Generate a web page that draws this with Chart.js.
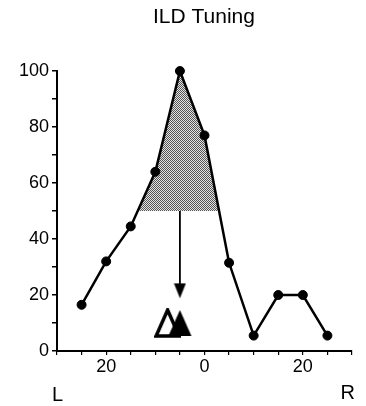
<!DOCTYPE html>
<html>
<head>
<meta charset="utf-8">
<script src="https://cdn.jsdelivr.net/npm/chart.js@4"></script>
<style>
  html, body { margin: 0; padding: 0; background: #fff; }
  #wrap { width: 366px; height: 406px; }
</style>
</head>
<body>
<div id="wrap"><canvas id="ildChart" width="366" height="406"></canvas></div>
<script>
// ILD (dB, negative = left ear louder) and normalised response (%)
const ild = [-25, -20, -15, -10, -5, 0, 5, 10, 15, 20, 25];
const response = [16.5, 32, 44.5, 64, 100, 77, 31.5, 5.5, 20, 20, 5.5];
const halfMax = 50;
// best ILD arrow, from half-max down to the head
const bestIld = -5;
const arrowEnd = 21.5;
// best ILD markers: open and filled triangles
const openTriIld = [-7.5];
const filledTriIld = [-5];
const triY = 10;

const xTickLabels = [-20, 0, 20];
const FONT = 'Liberation Sans, Arial, sans-serif';

function triangle(w, h, fill, stroke, down) {
  const c = document.createElement('canvas');
  c.width = w; c.height = h;
  const g = c.getContext('2d');
  g.beginPath();
  if (down) {
    g.moveTo(0.5, 0.5); g.lineTo(w - 0.5, 0.5); g.lineTo(w / 2, h - 0.5);
  } else {
    g.moveTo(w / 2, 2); g.lineTo(w - 2, h - 2); g.lineTo(2, h - 2);
  }
  g.closePath();
  g.fillStyle = fill;
  g.fill();
  if (stroke) {
    g.lineWidth = 3.5;
    g.lineJoin = 'miter';
    g.strokeStyle = stroke;
    g.stroke();
  }
  return c;
}

// stippled grey for the area above half-max
function stipple() {
  const c = document.createElement('canvas');
  c.width = 2; c.height = 2;
  const g = c.getContext('2d');
  g.fillStyle = '#e4e4e4'; g.fillRect(0, 0, 2, 2);
  g.fillStyle = '#555'; g.fillRect(0, 0, 1, 1); g.fillRect(1, 1, 1, 1);
  return g.createPattern(c, 'repeat');
}

const textPlugin = {
  id: 'texts',
  afterDraw(chart) {
    const ctx = chart.ctx;
    ctx.save();
    ctx.fillStyle = '#000';
    ctx.textBaseline = 'alphabetic';
    ctx.textAlign = 'center';
    ctx.font = '21px ' + FONT;
    ctx.fillText('ILD Tuning', 204, 23);
    ctx.font = '20px ' + FONT;
    ctx.textAlign = 'left';
    ctx.fillText('L', 52, 401);
    ctx.textAlign = 'right';
    ctx.fillText('R', 355, 399);
    ctx.restore();
  }
};

new Chart(document.getElementById('ildChart'), {
  type: 'scatter',
  data: {
    datasets: [
      {
        data: filledTriIld.map(x => ({ x, y: triY })),
        pointStyle: triangle(27, 30, '#000', null, false),
        pointRadius: 13,
        showLine: false,
        clip: false
      },
      {
        data: openTriIld.map(x => ({ x, y: triY })),
        pointStyle: triangle(27, 30, '#fff', '#000', false),
        pointRadius: 13,
        showLine: false,
        clip: false
      },
      {
        data: [{ x: bestIld, y: halfMax }, { x: bestIld, y: arrowEnd }],
        showLine: true,
        borderColor: '#000',
        borderWidth: 1.8,
        pointRadius: [0, 7],
        pointStyle: ['circle', triangle(13, 16, '#000', null, true)],
        clip: false
      },
      {
        data: ild.map((x, i) => ({ x, y: response[i] })),
        showLine: true,
        borderColor: '#000',
        borderWidth: 2.5,
        pointRadius: 4.5,
        pointBorderWidth: 1,
        pointBackgroundColor: '#000',
        pointBorderColor: '#000',
        clip: false,
        fill: { target: { value: halfMax }, above: stipple(), below: 'rgba(0,0,0,0)' }
      }
    ]
  },
  options: {
    responsive: false,
    animation: false,
    devicePixelRatio: 1,
    layout: { padding: { left: 7, right: 9, top: 71, bottom: 0 } },
    plugins: { legend: { display: false }, tooltip: { enabled: false }, title: { display: false } },
    scales: {
      x: {
        type: 'linear',
        min: -30,
        max: 30,
        afterFit(s) { s.height = 55; },
        border: { color: '#000', width: 2 },
        grid: { drawOnChartArea: false, color: '#000', tickLength: 4, lineWidth: 1.2 },
        ticks: {
          stepSize: 5,
          color: '#000',
          font: { family: FONT, size: 18 },
          padding: 1,
          maxRotation: 0,
          autoSkip: false,
          callback: v => xTickLabels.includes(v) ? String(Math.abs(v)) : ''
        }
      },
      y: {
        min: 0,
        max: 100,
        afterFit(s) { s.width = 50; },
        border: { color: '#000', width: 2 },
        grid: { drawOnChartArea: false, color: '#000', tickLength: 5, lineWidth: 1.5 },
        ticks: {
          stepSize: 10,
          color: '#000',
          font: { family: FONT, size: 18 },
          padding: 3,
          callback: v => v % 20 === 0 ? String(v) : ''
        }
      }
    }
  },
  plugins: [textPlugin]
});
</script>
</body>
</html>
